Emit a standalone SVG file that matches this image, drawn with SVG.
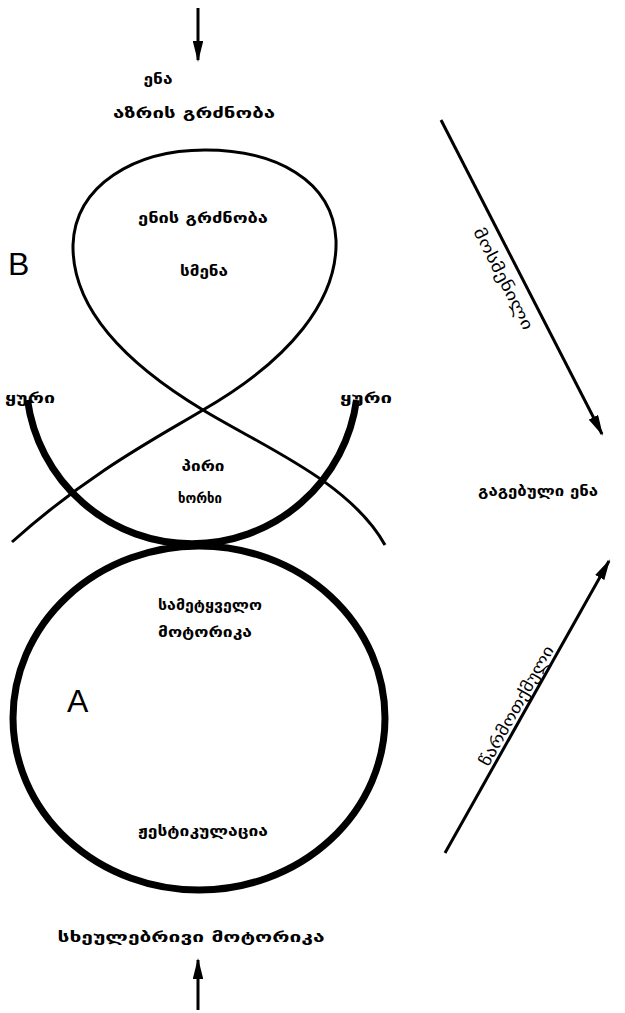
<svg xmlns="http://www.w3.org/2000/svg" width="625" height="1013" viewBox="0 0 625 1013">
<style>
.lbl{font-family:"DejaVu Sans",sans-serif;font-weight:bold;font-size:15px;fill:#000;text-anchor:middle}
.rot{font-family:"DejaVu Sans",sans-serif;font-size:16px;fill:#000;text-anchor:middle}
.big{font-family:"Liberation Sans",Arial,sans-serif;font-size:32px;fill:#000}
.thin{fill:none;stroke:#000;stroke-width:3}
.thick{fill:none;stroke:#000;stroke-width:7}
.arr{fill:none;stroke:#000;stroke-width:3}
</style>
<defs>
<marker id="ah" viewBox="0 0 20 10" refX="18" refY="5" markerWidth="7" markerHeight="3.5" orient="auto" markerUnits="strokeWidth">
<path d="M0,0 L20,5 L0,10 Z" fill="#000"/>
</marker>
</defs>
<g id="connectors">
<line class="arr" x1="198" y1="8" x2="198" y2="60" marker-end="url(#ah)"/>
<line class="arr" x1="198" y1="1010" x2="198" y2="960" marker-end="url(#ah)"/>
<line class="arr" x1="441" y1="120" x2="602" y2="434" marker-end="url(#ah)"/>
<line class="arr" x1="445" y1="853" x2="609" y2="561" marker-end="url(#ah)"/>
</g>
<g id="loop-B">
<path class="thin" d="M12,542 C90,472 160,436 203,410 C290,360 338,300 336,240 C333,180 275,150 205,150 C135,150 75,185 73,245 C72,305 120,360 203,410 C262,446 350,482 385,545"/>
<text class="big" x="8" y="275">B</text>
</g>
<g id="ear-arc">
<path class="thick" d="M27.5,400 A166,166 0 0 0 356.5,400"/>
</g>
<g id="circle-A">
<ellipse class="thick" cx="199" cy="718" rx="186" ry="172"/>
<text class="big" x="67" y="712">A</text>
</g>
<g id="labels">
<text class="lbl" x="158" y="84" textLength="29" lengthAdjust="spacingAndGlyphs">ენა</text>
<text class="lbl" x="194" y="118" textLength="162" lengthAdjust="spacingAndGlyphs">აზრის გრძნობა</text>
<text class="lbl" x="203" y="223" textLength="130" lengthAdjust="spacingAndGlyphs">ენის გრძნობა</text>
<text class="lbl" x="204" y="276" textLength="48" lengthAdjust="spacingAndGlyphs">სმენა</text>
<text class="lbl" x="30" y="403" textLength="50" lengthAdjust="spacingAndGlyphs">ყური</text>
<text class="lbl" x="366" y="403" textLength="52" lengthAdjust="spacingAndGlyphs">ყური</text>
<text class="lbl" x="203" y="471" textLength="43" lengthAdjust="spacingAndGlyphs">პირი</text>
<text class="lbl" x="200" y="503" textLength="44" lengthAdjust="spacingAndGlyphs">ხორხი</text>
<text class="lbl" x="538" y="496" textLength="120" lengthAdjust="spacingAndGlyphs">გაგებული ენა</text>
<text class="lbl" x="210" y="610" textLength="104" lengthAdjust="spacingAndGlyphs">სამეტყველო</text>
<text class="lbl" x="205" y="637" textLength="94" lengthAdjust="spacingAndGlyphs">მოტორიკა</text>
<text class="lbl" x="203" y="836" textLength="130" lengthAdjust="spacingAndGlyphs">ჟესტიკულაცია</text>
<text class="lbl" x="191" y="942" textLength="267" lengthAdjust="spacingAndGlyphs">სხეულებრივი მოტორიკა</text>
<text class="rot" transform="translate(503,279) rotate(63)" y="5" textLength="112" lengthAdjust="spacingAndGlyphs">მოსმენილი</text>
<text class="rot" transform="translate(517,706) rotate(-60.7)" y="5" textLength="135" lengthAdjust="spacingAndGlyphs">წარმოთქმული</text>
</g>
</svg>
